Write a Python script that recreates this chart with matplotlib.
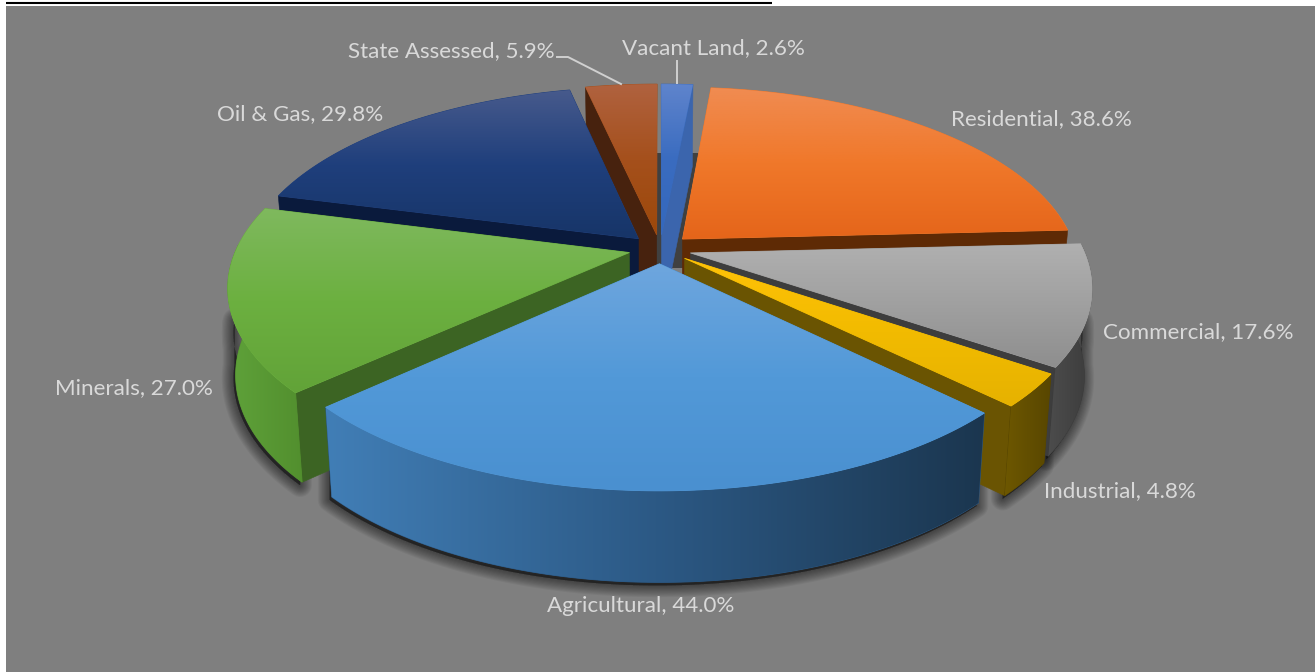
import numpy as np
import matplotlib
matplotlib.use("Agg")
import matplotlib.pyplot as plt
from matplotlib.colors import LinearSegmentedColormap
from matplotlib.patches import Polygon, Rectangle

# Assessed value share by property category, clockwise from twelve o'clock
categories = ["Vacant Land", "Residential", "Commercial", "Industrial",
              "Agricultural", "Minerals", "Oil & Gas", "State Assessed"]
values = [2.6, 38.6, 17.6, 4.8, 44.0, 27.0, 29.8, 5.9]

top_colors = [["#5f84cc", "#3a6cc0", "#3468bd"],
              ["#f08c52", "#f0782a", "#e5651a"],
              ["#b0b0b0", "#a0a0a0", "#8e8e8e"],
              ["#ffc208", "#f2bb00", "#e6b200"],
              ["#6ea6de", "#5299d8", "#4a90d0"],
              ["#7fb95e", "#6cb040", "#62a338"],
              ["#475a8c", "#1f3f7c", "#173568"],
              ["#b0623f", "#a5501c", "#9c480a"]]
wall_colors = [["#3d66b0", "#3d66b0"],
               ["#7a3a10", "#6a3008"],
               ["#4c4c4c", "#3c3c3c"],
               ["#6d5700", "#584600"],
               ["#417eb6", "#2c5985", "#1b364f"],
               ["#5fa23a", "#528f2e"],
               ["#0e2450", "#0e2450"],
               ["#6a3a1c", "#5a2e10"]]
face_colors = ["#3b65ad", "#5e2a05", "#3d3d3d", "#6a5402",
               "#1f4060", "#3c6423", "#0a1a3c", "#47220e"]

# Slices are painted from the back of the pie to the front
paint_order = [7, 0, 6, 1, 5, 2, 3, 4]

label_xy = [(713, 48), (1041, 119), (1198, 332), (1120, 491),
            (641, 606), (134, 388), (300, 114), (451, 51)]

# Projection of the tilted disc
CX, CY = 660, 249
RX, RY = 393, 181.6
PERSP = 0.175
DEPTH = 86
EXPLODE = 0.08
BOTTOM_SHRINK = 0.982


def project(px, py, bottom=False):
    d = 1 + PERSP * py
    x = RX * px / d
    y = -RY * py / d
    if bottom:
        return CX + x * BOTTOM_SHRINK, CY + y + DEPTH / d ** 0.3
    return CX + x, CY + y


def gradient(ax, poly, colors, zorder, horizontal=False):
    cmap = LinearSegmentedColormap.from_list("g", colors)
    x0, y0 = poly.min(axis=0)
    x1, y1 = poly.max(axis=0)
    ramp = np.linspace(0, 1, 256)
    img = ramp[None, :] if horizontal else ramp[:, None]
    # solid underlay keeps the clipped edge smooth
    ax.add_patch(Polygon(poly, closed=True, fc=colors[len(colors) // 2],
                         ec=colors[len(colors) // 2], lw=0.6, zorder=zorder))
    patch = Polygon(poly, closed=True, transform=ax.transData, fc="none", ec="none")
    ax.add_patch(patch)
    im = ax.imshow(img, extent=[x0, x1, y1, y0], cmap=cmap, vmin=0, vmax=1,
                   aspect="auto", zorder=zorder + 0.1, interpolation="bilinear")
    im.set_clip_path(patch)


fig = plt.figure(figsize=(13.15, 6.72), dpi=100, facecolor="white")
ax = fig.add_axes([0, 0, 1, 1])
ax.set_xlim(0, 1315)
ax.set_ylim(672, 0)
ax.axis("off")

ax.add_patch(Rectangle((6, 6), 1309, 666, fc="#7f7f7f", ec="none", zorder=0))
ax.plot([6, 772], [3, 3], color="black", lw=1.5, zorder=1, solid_capstyle="butt")

# Dark core visible through the gaps around the centre of the pie
ax.add_patch(Rectangle((650, 153), 60, 115, fc="#404040", ec="none", zorder=2.5))

shares = np.array(values) / np.sum(values) * 360.0
ends = np.cumsum(shares)
starts = ends - shares

# Build the outline of each exploded slice
slices = {}
for i, (a0, a1) in enumerate(zip(starts, ends)):
    mid = np.radians((a0 + a1) / 2)
    ox, oy = EXPLODE * np.sin(mid), EXPLODE * np.cos(mid)
    deg = np.linspace(a0, a1, 120)
    th = np.radians(deg)
    px, py = ox + np.sin(th), oy + np.cos(th)
    slices[i] = dict(
        a0=a0, a1=a1, deg=deg,
        apex_t=np.array(project(ox, oy)),
        apex_b=np.array(project(ox, oy, True)),
        arc_t=np.column_stack(project(px, py)),
        arc_b=np.column_stack(project(px, py, True)),
    )

# Soft drop shadow following the lower rim of the pie
for i in paint_order:
    s = slices[i]
    front = np.cos(np.radians(s["deg"])) < -0.12
    if not front.any():
        continue
    rim = s["arc_b"][front] + np.array([-2, 3])
    outline = np.vstack([rim, (rim - np.array([0, 45]))[::-1]])
    for lw in np.linspace(1, 17, 11):
        ax.add_patch(Polygon(outline, closed=True, fc="black", ec="black", lw=lw,
                             alpha=0.05, joinstyle="round", zorder=2))

z = 3
for i in paint_order:
    s = slices[i]
    # Cut faces: only those turned towards the viewer
    ends_visible = []
    if np.sin(np.radians(s["a0"])) < -1e-6:
        ends_visible.append(0)
    if np.sin(np.radians(s["a1"])) > 1e-6:
        ends_visible.append(-1)
    for end in ends_visible:
        face = np.array([s["apex_t"], s["arc_t"][end], s["arc_b"][end], s["apex_b"]])
        ax.add_patch(Polygon(face, closed=True, fc=face_colors[i],
                             ec=face_colors[i], lw=0.4, zorder=z))
        z += 1
    # Outer rim: only the part on the near side of the disc
    front = np.cos(np.radians(s["deg"])) < 0.05
    if front.any():
        wall = np.vstack([s["arc_t"][front], s["arc_b"][front][::-1]])
        gradient(ax, wall, wall_colors[i], z, horizontal=True)
        z += 1
    top = np.vstack([s["apex_t"], s["arc_t"]])
    gradient(ax, top, top_colors[i], z)
    z += 1

# Data labels and leader lines
for name, value, (lx, ly) in zip(categories, values, label_xy):
    ax.text(lx, ly, f"{name}, {value:.1f}%", color="#d9d9d9", fontsize=16.1,
            family="Lato", ha="center", va="center", zorder=200)
ax.plot([557, 568, 621], [57, 57, 84], color="#d0d0d0", lw=1.4, zorder=200)
ax.plot([677, 677], [61, 83], color="#d0d0d0", lw=1.4, zorder=200)

fig.savefig("out.png", dpi=100, facecolor="white")
